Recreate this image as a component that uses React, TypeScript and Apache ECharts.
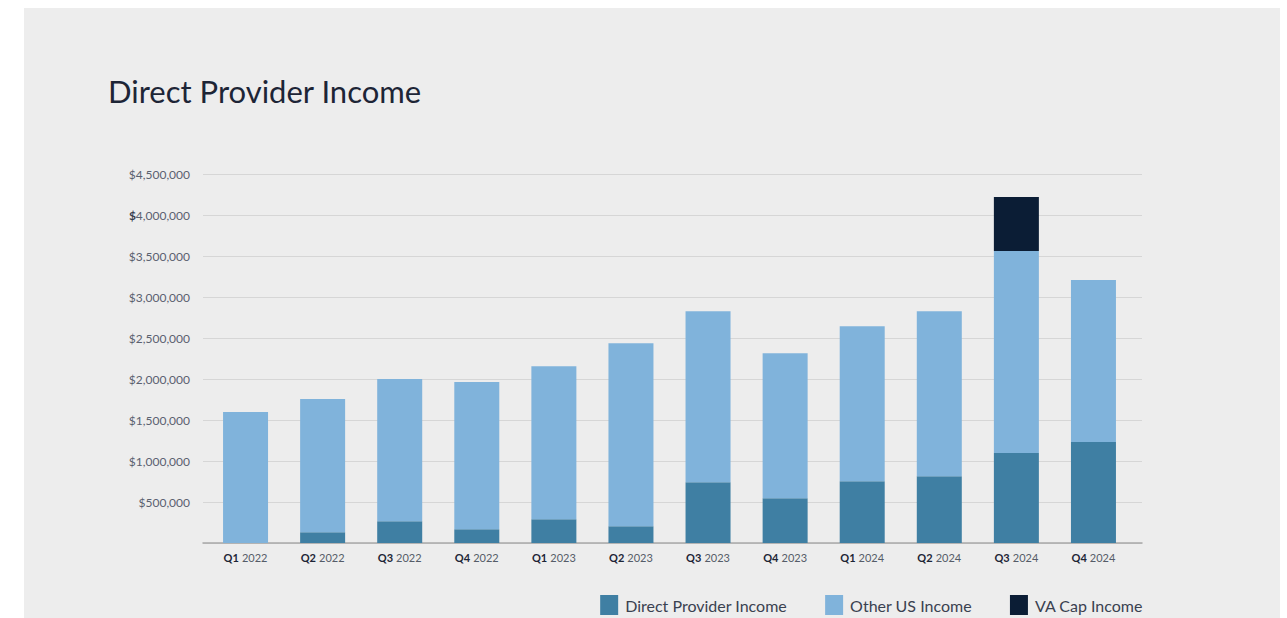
import React, { useEffect, useRef } from "react";
import * as echarts from "echarts";

const quarters = ["Q1", "Q2", "Q3", "Q4", "Q1", "Q2", "Q3", "Q4", "Q1", "Q2", "Q3", "Q4"];
const years = ["2022", "2022", "2022", "2022", "2023", "2023", "2023", "2023", "2024", "2024", "2024", "2024"];
const categories = quarters.map((q, i) => `${q} ${years[i]}`);

const directProvider = [0, 131000, 265000, 167000, 289000, 204000, 740000, 545000, 752000, 813000, 1098000, 1232000];
const otherUS = [1598000, 1625000, 1735000, 1796000, 1866000, 2231000, 2086000, 1768000, 1890000, 2013000, 2463000, 1975000];
const vaCap = [0, 0, 0, 0, 0, 0, 0, 0, 0, 0, 659000, 0];

const yTicks = [0, 500000, 1000000, 1500000, 2000000, 2500000, 3000000, 3500000, 4000000, 4500000];

export default function App() {
  const ref = useRef<HTMLDivElement>(null);
  useEffect(() => {
    if (!ref.current) return;
    const chart = echarts.init(ref.current, null, { renderer: "svg" });
    const font = "Lato, 'Noto Sans', sans-serif";
    chart.setOption({
      animation: false,
      backgroundColor: "#ededed",
      textStyle: { fontFamily: font },
      title: {
        text: "Direct Provider Income",
        left: 79,
        top: 62,
        textStyle: { fontFamily: font, fontSize: 31, fontWeight: "normal", color: "#1d2536" },
      },
      legend: {
        right: 132,
        top: 582,
        itemWidth: 18,
        itemHeight: 20,
        itemGap: 38,
        icon: "rect",
        textStyle: { fontFamily: font, fontSize: 16, color: "#3a4150", padding: [0, 0, 0, 2] },
        data: ["Direct Provider Income", "Other US Income", "VA Cap Income"],
      },
      grid: [
        { left: 183, right: 148, top: 166, bottom: 75 },
        { left: 179, right: 138, top: 166, bottom: 75 },
      ],
      xAxis: [
        {
          type: "category",
          gridIndex: 0,
          data: categories,
          axisLine: { show: false },
          axisTick: { show: false },
          axisLabel: {
            margin: 8,
            interval: 0,
            formatter: (v: string) => {
              const [q, y] = v.split(" ");
              return `{q|${q}} {y|${y}}`;
            },
            rich: {
              q: { fontFamily: font, fontSize: 11, fontWeight: "bold", color: "#1d2536" },
              y: { fontFamily: font, fontSize: 11, color: "#555c68" },
            },
          },
        },
        {
          type: "category",
          gridIndex: 1,
          data: categories,
          axisLine: { show: true, lineStyle: { color: "#a8a8a8", width: 1.5 } },
          axisTick: { show: false },
          axisLabel: { show: false },
        },
      ],
      yAxis: [
        {
          type: "value",
          gridIndex: 0,
          min: 0,
          max: 4500000,
          interval: 500000,
          show: false,
        },
        {
          type: "value",
          gridIndex: 1,
          min: 0,
          max: 4500000,
          interval: 500000,
          axisLine: { show: false },
          axisTick: { show: false },
          splitLine: { show: true, lineStyle: { color: "#d6d6d6", width: 1 } },
          axisLabel: {
            margin: 13,
            formatter: (v: number) => {
              if (!yTicks.includes(v) || v === 0) return "";
              const s = v.toLocaleString("en-US");
              if (v === 4000000) return `{b|$}{n|${s}}`;
              return `{n|$${s}}`;
            },
            rich: {
              b: { fontFamily: font, fontSize: 12, fontWeight: "bold", color: "#3a4150" },
              n: { fontFamily: font, fontSize: 12, color: "#5a6170" },
            },
          },
        },
      ],
      series: [
        {
          name: "Direct Provider Income",
          type: "bar",
          stack: "total",
          xAxisIndex: 0,
          yAxisIndex: 0,
          barWidth: 45,
          data: directProvider,
          itemStyle: { color: "#3f7fa3" },
        },
        {
          name: "Other US Income",
          type: "bar",
          stack: "total",
          xAxisIndex: 0,
          yAxisIndex: 0,
          barWidth: 45,
          data: otherUS,
          itemStyle: { color: "#80b3db" },
        },
        {
          name: "VA Cap Income",
          type: "bar",
          stack: "total",
          xAxisIndex: 0,
          yAxisIndex: 0,
          barWidth: 45,
          data: vaCap,
          itemStyle: { color: "#0b1d35" },
        },
      ],
    });
    return () => chart.dispose();
  }, []);
  return (
    <div
      ref={ref}
      style={{ position: "fixed", left: 24, top: 8, width: 1256, height: 610 }}
    />
  );
}
